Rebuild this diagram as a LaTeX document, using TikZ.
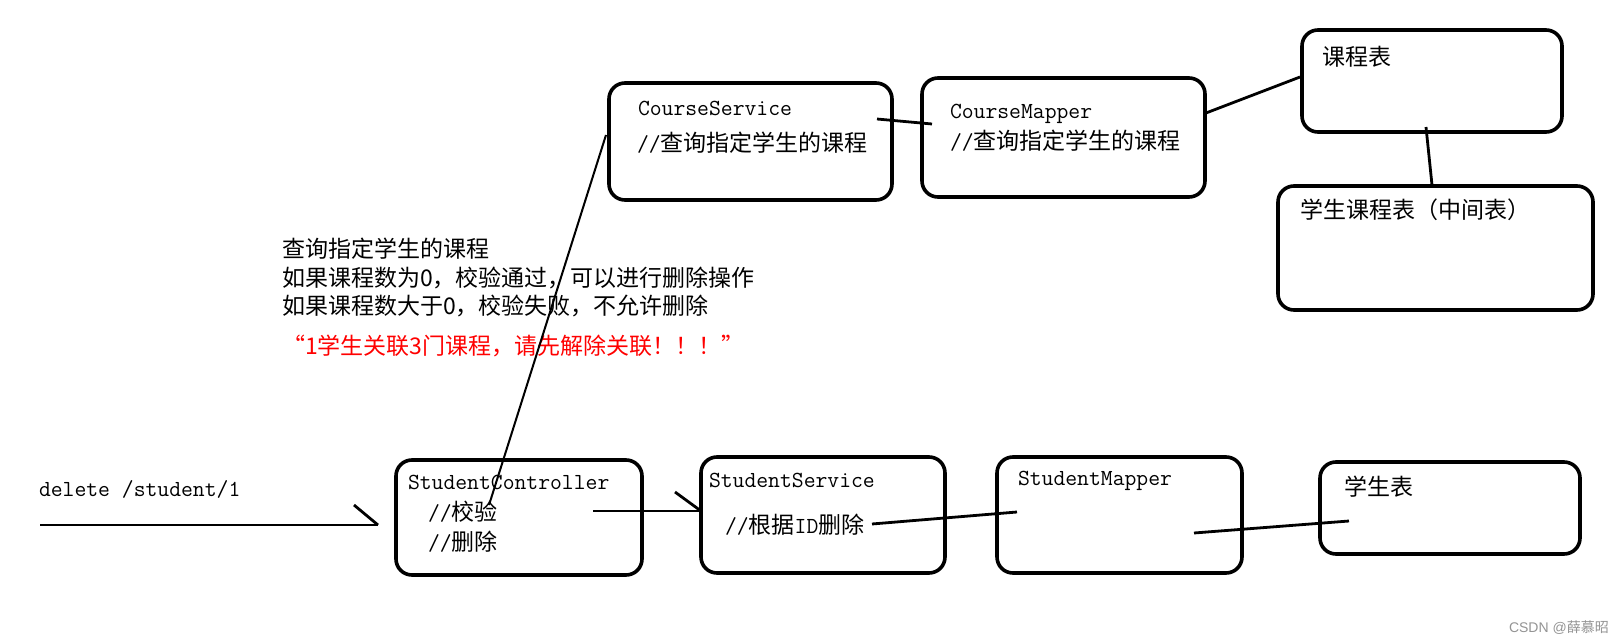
\documentclass[tikz,border=0pt]{standalone}
\usepackage{fontspec}
\newfontfamily\cjk{Noto Sans CJK SC}
\newfontfamily\cjkfw[CharacterWidth=Full]{Noto Sans CJK SC}
\newfontfamily\wmfont{Liberation Sans}
\newcommand\myMono[1]{{\fontsize{23}{27}\selectfont\ttfamily #1}}
\newcommand\myZh[1]{{\fontsize{23}{28}\selectfont\cjk #1}}
\tikzset{
  box/.style={draw=black, line width=3.6pt, rounded corners=16pt, inner sep=0pt, fill=none},
  lbl/.style={anchor=base west, inner sep=0pt, outer sep=0pt, text=black},
  conn/.style={draw=black, line width=2.8pt},
  thinconn/.style={draw=black, line width=2pt},
}
\begin{document}
\begin{tikzpicture}[x=1pt, y=-1pt]
\useasboundingbox (0,0) rectangle (1623,642);
\fill[white] (0,0) rectangle (1623,642);

% boxes
\node[box, minimum width=246pt, minimum height=115pt] (ctrl) at (519,517.5) {};
\node[box, minimum width=244pt, minimum height=116pt] (ssvc) at (823,515) {};
\node[box, minimum width=245pt, minimum height=116pt] (smap) at (1119.5,515) {};
\node[box, minimum width=260pt, minimum height=92pt] (stab) at (1450,508) {};
\node[box, minimum width=283pt, minimum height=117pt] (csvc) at (750.5,141.5) {};
\node[box, minimum width=283pt, minimum height=119pt] (cmap) at (1063.5,137.5) {};
\node[box, minimum width=260pt, minimum height=102pt] (ctab) at (1432,81) {};
\node[box, minimum width=315pt, minimum height=124pt] (sctab) at (1435.5,248) {};

% texts
\node[lbl] (req) at (39,496) {\myMono{delete /student/1}};
\node[lbl] (ctrlT) at (408,489) {\myMono{StudentController}};
\node[lbl] (ctrlA) at (428,520) {\myMono{//}\myZh{校验}};
\node[lbl] (ctrlB) at (428,550) {\myMono{//}\myZh{删除}};
\node[lbl] (ssvcT) at (709,487) {\myMono{StudentService}};
\node[lbl] (ssvcA) at (725,533) {\myMono{//}\myZh{根据}\myMono{ID}\myZh{删除}};
\node[lbl] (smapT) at (1018,485) {\myMono{StudentMapper}};
\node[lbl] (stabT) at (1344,495) {\myZh{学生表}};
\node[lbl] (csvcT) at (638,115) {\myMono{CourseService}};
\node[lbl] (csvcA) at (637,151) {\myMono{//}\myZh{查询指定学生的课程}};
\node[lbl] (cmapT) at (950,118) {\myMono{CourseMapper}};
\node[lbl] (cmapA) at (950,149) {\myMono{//}\myZh{查询指定学生的课程}};
\node[lbl] (ctabT) at (1322,66) {\myZh{课程表}};
\node[lbl] (sctabT) at (1300,218) {\myZh{学生课程表（中间表）}};

\node[lbl] (n1) at (282,257) {\myZh{查询指定学生的课程}};
\node[lbl] (n2) at (282,286) {\myZh{如果课程数为0，校验通过，可以进行删除操作}};
\node[lbl] (n3) at (282,314) {\myZh{如果课程数大于0，校验失败，不允许删除}};
\node[lbl, text=red] (n4) at (282,354) {\fontsize{23}{28}\selectfont{\cjkfw “}\cjk 1学生关联3门课程，请先解除关联！！！{\cjkfw ”}};

\node[lbl, text=black!42] (wm) at (1509,632) {\fontsize{14}{16}\selectfont\wmfont CSDN @{\cjk 薛慕昭}};

% connector end points
\coordinate (a0) at (40,525);
\coordinate (a1) at (378,525);
\coordinate (a2) at (354,505);
\coordinate (b0) at (593,511);
\coordinate (b1) at (701,511);
\coordinate (b2) at (675,492);
\coordinate (c0) at (872,524);
\coordinate (c1) at (1017,512);
\coordinate (d0) at (1194,533);
\coordinate (d1) at (1349,521);
\coordinate (e0) at (489,505);
\coordinate (e1) at (606,135);
\coordinate (f0) at (877,119);
\coordinate (f1) at (932,124);
\coordinate (g0) at (1206,113);
\coordinate (g1) at (1300,77);
\coordinate (h0) at (1426,127);
\coordinate (h1) at (1432,185);

% connectors
\draw[conn] (a0) -- (a1);
\draw[conn] (a2) -- (a1);
\draw[conn] (b0) -- (b1);
\draw[conn] (b2) -- (b1);
\draw[conn] (c0) -- (c1);
\draw[conn] (d0) -- (d1);
\draw[thinconn] (e0) -- (e1);
\draw[conn] (f0) -- (f1);
\draw[conn] (g0) -- (g1);
\draw[conn] (h0) -- (h1);
\end{tikzpicture}
\end{document}
